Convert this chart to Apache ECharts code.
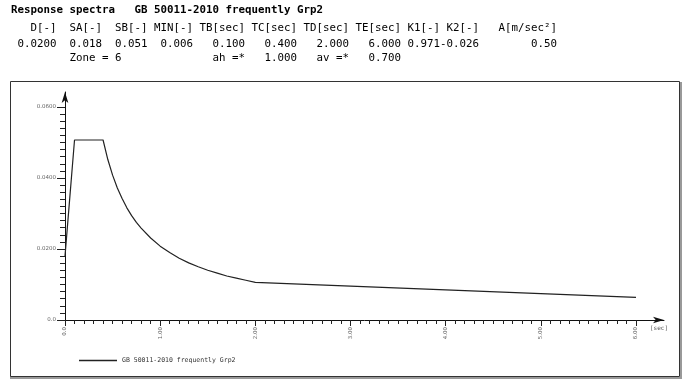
<!DOCTYPE html>
<html><head><meta charset="utf-8">
<script src="https://cdn.jsdelivr.net/npm/echarts@6/dist/echarts.min.js"></script>
<style>html,body{margin:0;padding:0;background:#fff}#c{width:690px;height:380px}</style>
</head><body><div id="c"></div>
<script>
// period T [sec]
const periods = [0, 0.1, 0.4, 0.45, 0.5, 0.55, 0.6, 0.65, 0.7, 0.75, 0.8, 0.9, 1.0, 1.1, 1.2, 1.3, 1.4, 1.5, 1.6, 1.7, 1.8, 1.9, 2.0, 3.0, 4.0, 5.0, 6.0];
// spectral value
const spectra = [0.0180, 0.0507, 0.0507, 0.0452, 0.0408, 0.0372, 0.0342, 0.0316, 0.0294, 0.0275, 0.0259, 0.0231, 0.0208, 0.0190, 0.0174, 0.0161, 0.0150, 0.0140, 0.0132, 0.0124, 0.0118, 0.0112, 0.0106, 0.00957, 0.00851, 0.00745, 0.00639];
const seriesName = 'GB 50011-2010 frequently Grp2';
const headerLines = [
  'Response spectra   GB 50011-2010 frequently Grp2',
  '   D[-]  SA[-]  SB[-] MIN[-] TB[sec] TC[sec] TD[sec] TE[sec] K1[-] K2[-]   A[m/sec\u00b2]',
  ' 0.0200  0.018  0.051  0.006   0.100   0.400   2.000   6.000 0.971-0.026        0.50',
  '         Zone = 6              ah =*   1.000   av =*   0.700'
];
const xTickLabels = {0: '0.0', 1: '1.00', 2: '2.00', 3: '3.00', 4: '4.00', 5: '5.00', 6: '6.00'};
const yTickLabels = {0: '0.0', 0.02: '0.0200', 0.04: '0.0400', 0.06: '0.0600'};

const chart = echarts.init(document.getElementById('c'));
const mono = "'DejaVu Sans Mono', 'Liberation Mono', monospace";
const headerY = [10, 28, 44, 58];
const graphics = headerLines.map((t, i) => ({
  type: 'text', left: 11, top: headerY[i] - 5,
  style: { text: t, font: (i === 0 ? 'bold ' : '') + '10.8px ' + mono, fill: '#000' }
}));
graphics.push(
  { type: 'rect', shape: { x: 11, y: 83, width: 670, height: 295 }, style: { fill: 'none', stroke: '#999', lineWidth: 2 }, z: -2 },
  { type: 'rect', shape: { x: 10.5, y: 81.5, width: 669, height: 295 }, style: { fill: '#fff', stroke: '#333', lineWidth: 1 }, z: -1 },
  { type: 'text', left: 650, top: 325, style: { text: '[sec]', font: '6px ' + mono, fill: '#555' } }
);

chart.setOption({
  animation: false,
  graphic: graphics,
  legend: {
    left: 74, top: 352, icon: 'rect', itemWidth: 38, itemHeight: 1.5,
    textStyle: { fontFamily: mono, fontSize: 6.5, color: '#333' },
    data: [seriesName]
  },
  grid: [
    { left: 65, right: 54, top: 107, bottom: 60 },
    { left: 65, right: 26, top: 92, bottom: 60 }
  ],
  xAxis: [
    { type: 'value', gridIndex: 0, min: 0, max: 6, interval: 1,
      axisLine: { show: false },
      axisTick: { show: true, length: 6, lineStyle: { color: '#222' } },
      minorTick: { show: true, splitNumber: 10, length: 4, lineStyle: { color: '#222' } },
      splitLine: { show: false },
      axisLabel: { rotate: 90, margin: 7, fontSize: 5.5, color: '#666', fontFamily: 'Verdana, DejaVu Sans',
        formatter: v => xTickLabels[Math.round(v)] } },
    { type: 'value', gridIndex: 1, min: 0, max: 1,
      axisLine: { show: true, symbol: ['none', 'arrow'], symbolSize: [5, 11], lineStyle: { color: '#111', width: 1 } },
      axisTick: { show: false }, axisLabel: { show: false }, splitLine: { show: false } }
  ],
  yAxis: [
    { type: 'value', gridIndex: 0, min: 0, max: 0.06, interval: 0.02,
      axisLine: { show: false },
      axisTick: { show: true, length: 8, lineStyle: { color: '#222' } },
      minorTick: { show: true, splitNumber: 10, length: 5, lineStyle: { color: '#222' } },
      splitLine: { show: false },
      axisLabel: { margin: 9, fontSize: 5.5, color: '#666', fontFamily: 'Verdana, DejaVu Sans',
        formatter: v => yTickLabels[Math.round(v * 100) / 100] } },
    { type: 'value', gridIndex: 1, min: 0, max: 1,
      axisLine: { show: true, symbol: ['none', 'arrow'], symbolSize: [5, 11], lineStyle: { color: '#111', width: 1 } },
      axisTick: { show: false }, axisLabel: { show: false }, splitLine: { show: false } }
  ],
  series: [{
    name: seriesName, type: 'line', xAxisIndex: 0, yAxisIndex: 0,
    data: periods.map((t, i) => [t, spectra[i]]),
    showSymbol: false, lineStyle: { color: '#222', width: 1.2 }, itemStyle: { color: '#222' }
  }]
});
</script></body></html>
